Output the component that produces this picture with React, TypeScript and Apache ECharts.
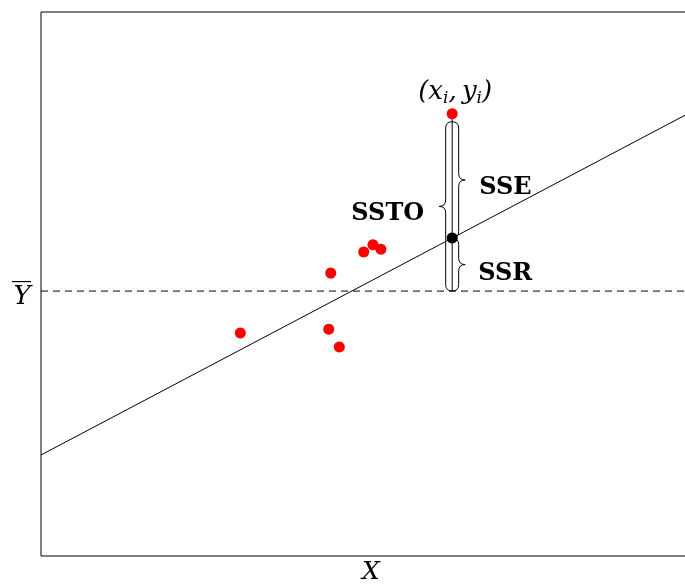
import React, { useEffect, useRef } from "react";
import * as echarts from "echarts";

// Axis ranges (data units)
const xRange = [0, 10];
const yRange = [0, 10];

// Observations
const obsX = [3.02, 4.39, 4.36, 4.52, 4.89, 5.03, 5.15, 6.23];
const obsY = [4.1, 5.2, 4.17, 3.84, 5.59, 5.72, 5.64, 8.13];
const highlightIndex = 7; // the (x_i, y_i) observation

// Mean of Y and fitted regression line
const meanY = 4.87;
const fitIntercept = 1.857;
const fitSlope = 0.64;

// Labels
const braceLabels = ["SSTO", "SSE", "SSR"];
const xAxisName = "X";
const meanLabel = "Y";

const MATH_FONT = "DejaVu Serif";
const BOLD_FONT = "DejaVu Serif";

function bracePath(bx: number, y1: number, y2: number, dir: number, amp: number) {
  const h = amp / 2;
  const ym = (y1 + y2) / 2;
  const ax = bx + dir * h;
  const tx = bx + dir * amp;
  return [
    `M ${bx} ${y1}`,
    `Q ${ax} ${y1} ${ax} ${y1 + h}`,
    `L ${ax} ${ym - h}`,
    `Q ${ax} ${ym} ${tx} ${ym}`,
    `Q ${ax} ${ym} ${ax} ${ym + h}`,
    `L ${ax} ${y2 - h}`,
    `Q ${ax} ${y2} ${bx} ${y2}`,
  ].join(" ");
}

export default function App() {
  const ref = useRef<HTMLDivElement>(null);

  useEffect(() => {
    if (!ref.current) return;
    const chart = echarts.init(ref.current, null, { renderer: "svg" });

    const xi = obsX[highlightIndex];
    const yi = obsY[highlightIndex];
    const yHat = fitIntercept + fitSlope * xi;

    const regressionData = [
      [xRange[0], fitIntercept + fitSlope * xRange[0]],
      [xRange[1], fitIntercept + fitSlope * xRange[1]],
    ];
    const meanData = [
      [xRange[0], meanY],
      [xRange[1], meanY],
    ];
    const scatterData = obsX.map((x, i) => [x, obsY[i]]);

    const option: any = {
      animation: false,
      grid: {
        left: 41,
        top: 12,
        width: 660,
        height: 544,
        outerBoundsMode: "none",
        containLabel: false,
        show: true,
        borderColor: "#000",
        borderWidth: 1,
        backgroundColor: "transparent",
      },
      xAxis: {
        type: "value",
        min: xRange[0],
        max: xRange[1],
        axisLine: { show: false },
        axisTick: { show: false },
        axisLabel: { show: false },
        splitLine: { show: false },
        name: xAxisName,
        nameLocation: "middle",
        nameGap: 2,
        nameTextStyle: {
          fontFamily: MATH_FONT,
          fontStyle: "italic",
          fontSize: 25,
          lineHeight: 25,
          color: "#000",
        },
      },
      yAxis: {
        type: "value",
        min: yRange[0],
        max: yRange[1],
        axisLine: { show: false },
        axisTick: { show: false },
        axisLabel: { show: false },
        splitLine: { show: false },
      },
      series: [
        {
          name: "Regression",
          type: "line",
          data: regressionData,
          symbol: "none",
          silent: true,
          lineStyle: { color: "#000", width: 1 },
          z: 2,
        },
        {
          name: "Mean",
          type: "line",
          data: meanData,
          symbol: "none",
          silent: true,
          lineStyle: { color: "#000", width: 1, type: [7, 5] },
          z: 2,
        },
        {
          name: "Decomposition",
          type: "custom",
          data: [[xi, yi, yHat, meanY]],
          encode: { x: 0, y: 1 },
          silent: true,
          z: 3,
          renderItem: (params: any, api: any) => {
            const x = api.value(0);
            const P = api.coord([x, api.value(1)]);
            const F = api.coord([x, api.value(2)]);
            const M = api.coord([x, api.value(3)]);
            const L0 = api.coord([xRange[0], api.value(3)]);
            const bx = P[0];
            const yT = P[1] + 8;
            const amp = 13;
            const st = { stroke: "#000", lineWidth: 1, fill: "none" };
            const boldText = (text: string, tx: number, ty: number, align: string) => ({
              type: "text",
              x: tx,
              y: ty,
              style: {
                text,
                fontFamily: BOLD_FONT,
                fontWeight: "bold",
                fontSize: 24,
                fill: "#000",
                align,
                verticalAlign: "middle",
              },
            });
            return {
              type: "group",
              children: [
                {
                  type: "line",
                  shape: { x1: bx, y1: P[1], x2: bx, y2: M[1] },
                  style: { stroke: "#000", lineWidth: 1 },
                },
                { type: "path", shape: { pathData: bracePath(bx, yT, M[1], -1, amp) }, style: st },
                { type: "path", shape: { pathData: bracePath(bx, yT, F[1], 1, amp) }, style: st },
                { type: "path", shape: { pathData: bracePath(bx, F[1], M[1], 1, amp) }, style: st },
                boldText(braceLabels[0], bx - 28, (yT + M[1]) / 2 + 5, "right"),
                boldText(braceLabels[1], bx + 27, (yT + F[1]) / 2 + 6, "left"),
                boldText(braceLabels[2], bx + 26, (F[1] + M[1]) / 2 + 7, "left"),
                {
                  type: "text",
                  x: bx + 3,
                  y: P[1] - 24,
                  style: {
                    text: "{m|(x}{s|i}{m|,\u2009y}{s|i}{m|)}",
                    align: "center",
                    verticalAlign: "middle",
                    fill: "#000",
                    rich: {
                      m: {
                        fontFamily: MATH_FONT,
                        fontStyle: "italic",
                        fontSize: 26,
                        lineHeight: 32,
                        verticalAlign: "middle",
                        fill: "#000",
                      },
                      s: {
                        fontFamily: MATH_FONT,
                        fontStyle: "italic",
                        fontSize: 17,
                        lineHeight: 12,
                        verticalAlign: "bottom",
                        fill: "#000",
                      },
                    },
                  },
                },
                {
                  type: "text",
                  x: L0[0] - 19,
                  y: L0[1] + 4,
                  style: {
                    text: meanLabel,
                    fontFamily: MATH_FONT,
                    fontStyle: "italic",
                    fontSize: 26,
                    fill: "#000",
                    align: "center",
                    verticalAlign: "middle",
                  },
                },
                {
                  type: "line",
                  shape: { x1: L0[0] - 29, y1: L0[1] - 9.5, x2: L0[0] - 10, y2: L0[1] - 9.5 },
                  style: { stroke: "#000", lineWidth: 1.2 },
                },
              ],
            };
          },
        },
        {
          name: "Observations",
          type: "scatter",
          data: scatterData,
          symbol: "circle",
          symbolSize: 11,
          itemStyle: { color: "#ff0000", opacity: 1 },
          silent: true,
          z: 5,
        },
        {
          name: "Fitted",
          type: "scatter",
          data: [[xi, yHat]],
          symbol: "circle",
          symbolSize: 11,
          itemStyle: { color: "#000", opacity: 1 },
          silent: true,
          z: 6,
        },
      ],
    };

    chart.setOption(option);
    return () => chart.dispose();
  }, []);

  return (
    <div
      ref={ref}
      style={{ position: "fixed", left: 0, top: 0, width: 685, height: 585, overflow: "hidden" }}
    />
  );
}
